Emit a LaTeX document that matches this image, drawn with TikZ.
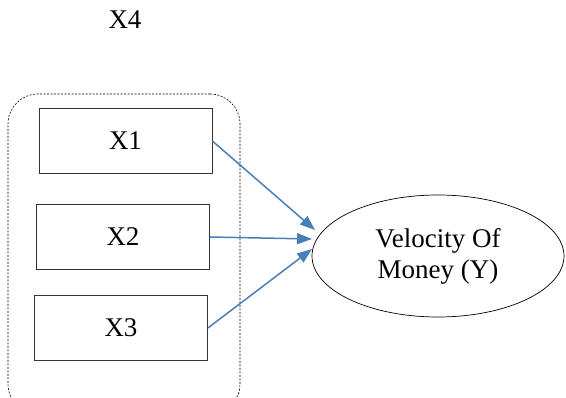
\documentclass[tikz,border=0pt]{standalone}
\usepackage{fontspec}
\setmainfont{Liberation Serif}
\usetikzlibrary{arrows.meta,shapes.geometric}
\definecolor{arrowblue}{HTML}{4A7EBB}
\begin{document}
\begin{tikzpicture}[x=1pt,y=-1pt,
  font=\fontsize{27}{31}\selectfont,
  factor/.style={draw=black!80, line width=0.8pt, minimum width=173pt, minimum height=65pt, inner sep=0pt},
  group/.style={draw=black, line width=0.6pt, dash pattern=on 2pt off 1.5pt, rounded corners=30pt, minimum width=232pt, minimum height=320pt},
  outcome/.style={draw=black, line width=0.7pt, ellipse, minimum width=252pt, minimum height=122pt, inner sep=0pt, align=center},
  link/.style={draw=arrowblue, line width=1.5pt, -{Triangle[length=15pt,width=11pt]}}]
  \useasboundingbox (0,0) rectangle (566,398);
  \node [group] (Group) at (124,254) {};
  \node (X4) at (125,20) {X4};
  \node [factor] (X1) at (125.5,141) {X1};
  \node [factor] (X2) at (123,237) {X2};
  \node [factor] (X3) at (121,328) {X3};
  \node [outcome] (Vel) at (438,256) {Velocity Of\\Money (Y)};
  \coordinate (t1) at (315,230);
  \coordinate (t2) at (312,239);
  \coordinate (t3) at (312,249);
  \draw [link] (X1.east) -- (t1);
  \draw [link] (X2.east) -- (t2);
  \draw [link] (X3.east) -- (t3);
\end{tikzpicture}
\end{document}
